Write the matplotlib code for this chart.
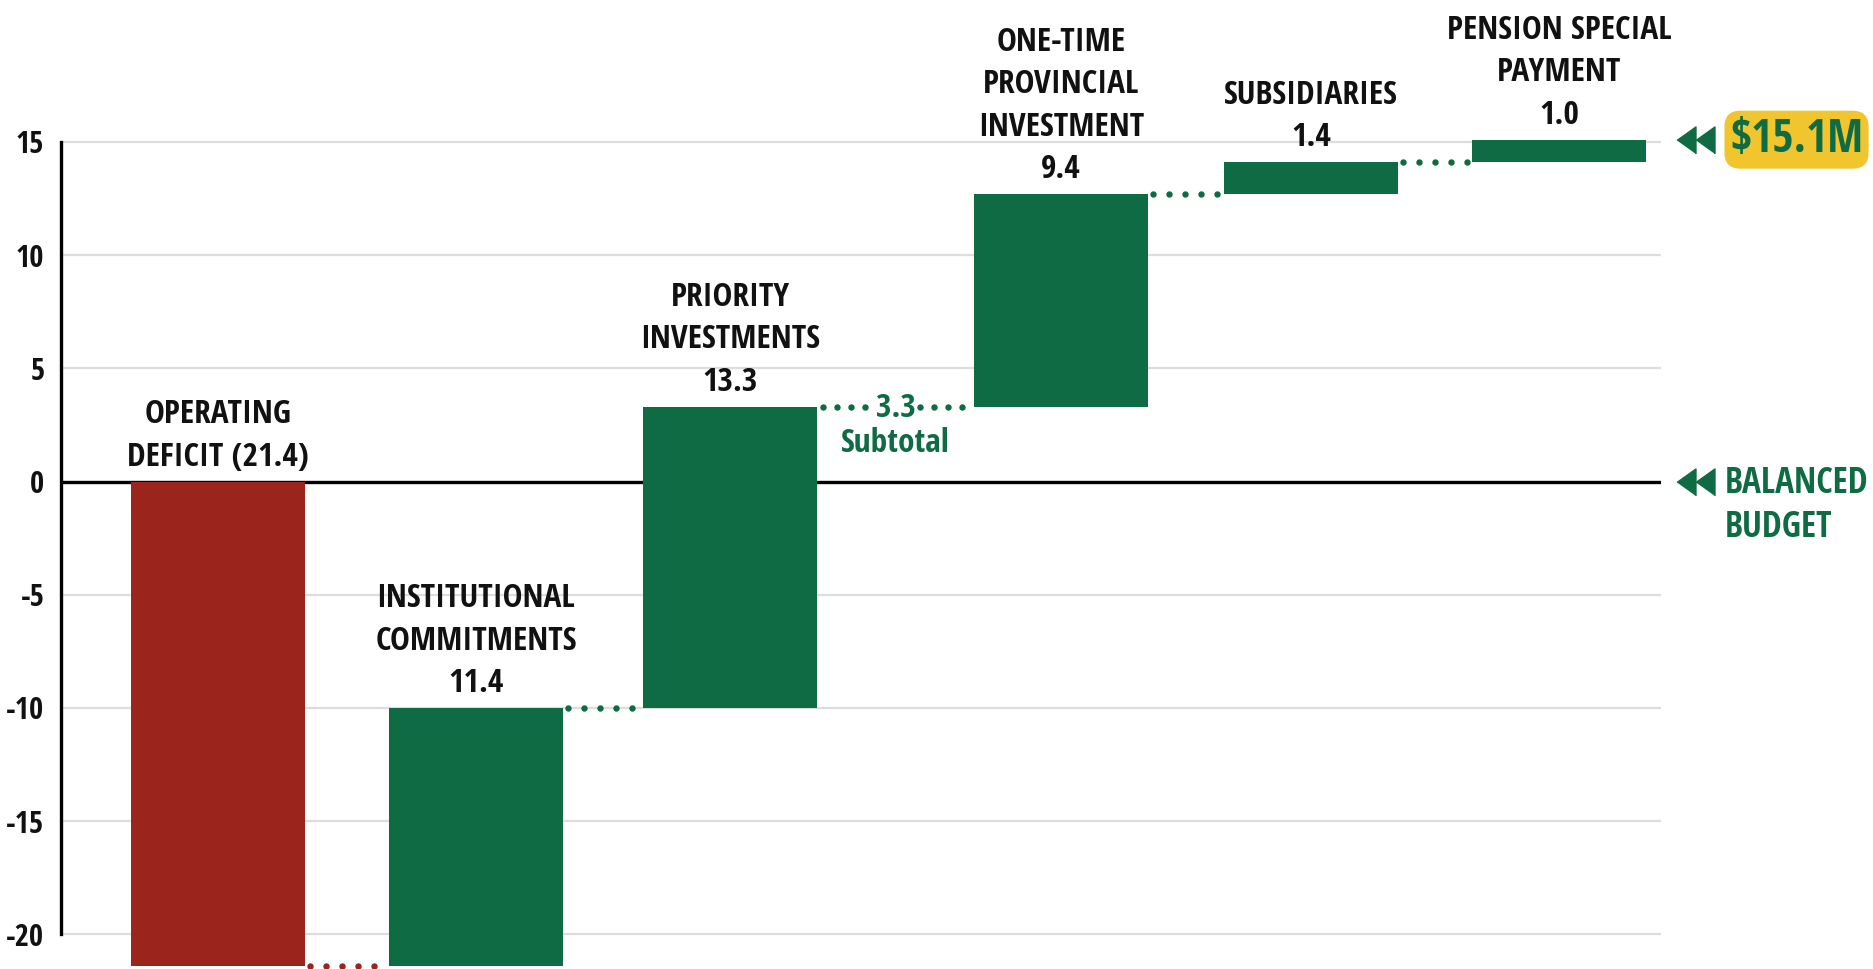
import numpy as np
import matplotlib.pyplot as plt
from matplotlib import font_manager as fm

plt.rcParams['axes.unicode_minus'] = False


def pick_font(cands):
    for c in cands:
        try:
            fm.findfont(fm.FontProperties(family=c, weight='bold'), fallback_to_default=False)
            return c
        except ValueError:
            pass
    return 'DejaVu Sans'


FONT = [pick_font(['Open Sans Condensed', 'IBM Plex Sans Condensed']), 'DejaVu Sans']

# data
names = ['OPERATING\nDEFICIT', 'INSTITUTIONAL\nCOMMITMENTS', 'PRIORITY\nINVESTMENTS',
         'ONE-TIME\nPROVINCIAL\nINVESTMENT', 'SUBSIDIARIES', 'PENSION SPECIAL\nPAYMENT']
values = [-21.4, 11.4, 13.3, 9.4, 1.4, 1.0]
subtotal_after = 2
subtotal_text = 'Subtotal'
balanced_text = 'BALANCED\nBUDGET'
yticks = [-20, -15, -10, -5, 0, 5, 10, 15]

# layout (x in hundreds of pixels)
xpos = [2.18, 4.76, 7.30, 10.61, 13.11, 15.59]
bar_w = 1.74

GREEN = '#0e6b43'
RED = '#9b241d'
YELLOW = '#f0c52e'
INK = '#111111'

ends = np.cumsum(values)
starts = ends - np.array(values)
colors = [RED if v < 0 else GREEN for v in values]

fig = plt.figure(figsize=(18.74, 9.69), dpi=100)
ax = fig.add_axes([61 / 1874, 0, 1600 / 1874, 1])
ax.set_xlim(0.61, 16.61)
ax.set_ylim(-21.53, 21.27)

ax.bar(xpos, values, bottom=starts, width=bar_w, color=colors, zorder=3)

# grid + zero line
ax.set_axisbelow(True)
ax.set_yticks(yticks)
ax.yaxis.grid(True, color='#dddddd', lw=1.6)
ax.axhline(0, color='black', lw=2.4, zorder=2)
ax.set_xticks([])
for s in ['top', 'right', 'bottom']:
    ax.spines[s].set_visible(False)
ax.spines['left'].set_bounds(-20, 15)
ax.spines['left'].set_linewidth(2.4)
ax.tick_params(axis='y', length=0, pad=12)
for lab in ax.get_yticklabels():
    lab.set_family(FONT)
    lab.set_fontweight('bold')
    lab.set_fontsize(22)
    lab.set_color(INK)

# category labels
for i, (x, name, v) in enumerate(zip(xpos, names, values)):
    top = max(starts[i], ends[i])
    if v < 0:
        txt = f'{name} ({abs(v):.1f})'
    else:
        txt = f'{name}\n{v:.1f}'
    ax.text(x, top + 0.35, txt, ha='center', va='bottom', family=FONT,
            fontweight='bold', fontsize=24, color=INK, linespacing=1.38)

# dotted connectors
for i in range(len(values) - 1):
    level = ends[i]
    x0 = xpos[i] + bar_w / 2
    x1 = xpos[i + 1] - bar_w / 2
    col = colors[i]
    if i == subtotal_after:
        xs = np.concatenate([x0 + 0.06 + 0.14 * np.arange(4),
                             x1 - 0.12 - 0.14 * np.arange(4)])
        mid = (x0 + x1) / 2
        ax.text(mid, level - 0.47, f'{level:.1f}', ha='center', va='baseline',
                family=FONT, fontweight='bold', fontsize=24, color=GREEN)
        ax.text(mid, level - 2.0, subtotal_text, ha='center', va='baseline',
                family=FONT, fontweight='bold', fontsize=24, color=GREEN)
    else:
        xs = np.arange(x0 + 0.05, x1 - 0.02, 0.16)
    ax.plot(xs, [level] * len(xs), ls='none', marker='o', ms=3.6,
            color=col, clip_on=False, zorder=4)

# right-side markers
arrow = [(-0.7, 0), (0.7, 1), (0.7, -1)]
for lvl in [ends[-1], 0]:
    ax.plot([16.865, 17.045], [lvl, lvl], ls='none', marker=arrow, ms=19.5,
            color=GREEN, clip_on=False)

ax.text(17.965, ends[-1], f'${ends[-1]:.1f}M', ha='center', va='center',
        family=FONT, fontweight='bold', fontsize=33, color=GREEN,
        bbox=dict(boxstyle='round,pad=0.12,rounding_size=0.35',
                  fc=YELLOW, ec='none'), clip_on=False)

ax.text(17.25, -2.45, balanced_text, ha='left', va='baseline', family=FONT,
        fontweight='bold', fontsize=25.5, color=GREEN, linespacing=1.3,
        clip_on=False)

fig.savefig('out.png', dpi=100)
